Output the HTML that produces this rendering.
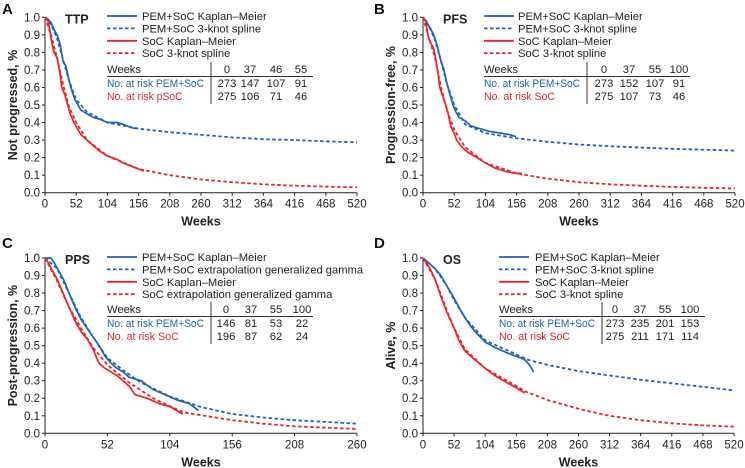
<!DOCTYPE html>
<html><head><meta charset="utf-8">
<style>
html,body{margin:0;padding:0;background:#fff;}
svg{display:block;font-family:"Liberation Sans",Arial,sans-serif;}
</style></head>
<body>
<svg id="chart" width="745" height="468" viewBox="0 0 745 468" xmlns="http://www.w3.org/2000/svg"></svg>
<script>
// ---------- Data ----------
const tickYLabels = ["0.0","0.1","0.2","0.3","0.4","0.5","0.6","0.7","0.8","0.9","1.0"];
const tickY = [0,0.1,0.2,0.3,0.4,0.5,0.6,0.7,0.8,0.9,1.0];
const ticksX520 = [0,52,104,156,208,260,312,364,416,468,520];
const ticksX260 = [0,52,104,156,208,260];

// Panel A - TTP
const ttpPemKmWeeks = [0,5,10,15,20,25,30,35,40,45,50,55,60,70,80,90,104,120,130,145,152];
const ttpPemKmVals  = [1,0.99,0.97,0.93,0.9,0.85,0.75,0.72,0.64,0.58,0.53,0.5,0.47,0.45,0.43,0.42,0.40,0.40,0.39,0.37,0.365];
const ttpPemSpWeeks = [0,10,20,30,40,52,70,104,156,208,260,312,364,416,468,520];
const ttpPemSpVals  = [1,0.96,0.88,0.76,0.64,0.53,0.46,0.40,0.365,0.345,0.33,0.315,0.305,0.3,0.293,0.287];
const ttpSocKmWeeks = [0,5,8,10,15,20,25,28,33,38,42,48,55,60,70,80,90,104,120,130,145,160,165];
const ttpSocKmVals  = [1,0.98,0.93,0.88,0.8,0.77,0.68,0.6,0.56,0.5,0.45,0.4,0.36,0.33,0.3,0.27,0.24,0.21,0.19,0.17,0.15,0.13,0.125];
const ttpSocSpWeeks = [0,10,20,30,40,52,70,104,156,208,260,312,364,416,468,520];
const ttpSocSpVals  = [1,0.9,0.77,0.62,0.49,0.4,0.3,0.21,0.135,0.1,0.075,0.06,0.048,0.04,0.035,0.03];

// Panel B - PFS
const pfsPemKmWeeks = [0,5,10,15,20,25,30,35,40,45,50,55,60,70,80,90,100,110,130,145,155];
const pfsPemKmVals  = [1,0.98,0.95,0.92,0.88,0.82,0.75,0.7,0.62,0.56,0.5,0.46,0.43,0.41,0.38,0.37,0.36,0.35,0.34,0.33,0.32];
const pfsPemSpWeeks = [0,10,20,30,40,52,70,104,156,208,260,312,364,416,468,520];
const pfsPemSpVals  = [1,0.95,0.87,0.75,0.62,0.5,0.39,0.34,0.31,0.29,0.275,0.265,0.257,0.25,0.245,0.24];
const pfsSocKmWeeks = [0,5,8,12,18,22,25,28,33,38,42,46,52,56,65,75,90,104,120,140,155,165];
const pfsSocKmVals  = [1,0.97,0.9,0.86,0.82,0.75,0.68,0.6,0.55,0.5,0.45,0.38,0.34,0.3,0.26,0.23,0.2,0.17,0.14,0.12,0.11,0.11];
const pfsSocSpWeeks = [0,10,20,30,40,52,70,104,156,208,260,312,364,416,468,520];
const pfsSocSpVals  = [1,0.88,0.77,0.6,0.47,0.36,0.26,0.17,0.11,0.08,0.06,0.048,0.04,0.033,0.028,0.024];

// Panel C - PPS
const ppsPemKmWeeks = [0,5,8,12,16,20,25,30,35,40,45,50,55,60,65,70,80,90,100,110,120,126,128];
const ppsPemKmVals  = [1,1,0.97,0.92,0.87,0.8,0.72,0.65,0.6,0.55,0.5,0.44,0.4,0.37,0.35,0.32,0.3,0.25,0.22,0.19,0.17,0.14,0.13];
const ppsPemSpWeeks = [0,10,20,30,40,52,65,80,104,130,156,182,208,234,260];
const ppsPemSpVals  = [1,0.94,0.8,0.66,0.55,0.43,0.36,0.29,0.21,0.15,0.11,0.09,0.075,0.065,0.055];
const ppsSocKmWeeks = [0,3,6,10,15,20,25,30,35,40,45,50,60,70,75,85,95,105,112,115];
const ppsSocKmVals  = [1,0.97,0.93,0.88,0.8,0.72,0.64,0.58,0.54,0.48,0.4,0.37,0.33,0.27,0.22,0.2,0.17,0.15,0.12,0.11];
const ppsSocSpWeeks = [0,10,20,30,40,52,70,90,115,156,182,208,234,260];
const ppsSocSpVals  = [1,0.87,0.72,0.6,0.49,0.39,0.29,0.2,0.12,0.075,0.055,0.04,0.032,0.025];

// Panel D - OS
const osPemKmWeeks = [0,10,20,30,40,52,60,70,80,90,104,120,140,156,170,178,185];
const osPemKmVals  = [1,0.97,0.94,0.9,0.84,0.77,0.72,0.66,0.61,0.57,0.52,0.49,0.46,0.44,0.42,0.39,0.35];
const osPemSpWeeks = [0,20,40,52,70,104,156,175,208,260,312,364,416,468,520];
const osPemSpVals  = [1,0.94,0.84,0.76,0.66,0.53,0.45,0.42,0.39,0.355,0.33,0.305,0.285,0.265,0.245];
const osSocKmWeeks = [0,10,20,30,40,52,60,70,80,90,104,120,140,156,170];
const osSocKmVals  = [1,0.95,0.88,0.78,0.69,0.6,0.53,0.47,0.44,0.41,0.37,0.33,0.29,0.26,0.23];
const osSocSpWeeks = [0,20,40,52,70,104,156,170,208,260,312,364,416,468,520];
const osSocSpVals  = [1,0.88,0.7,0.6,0.48,0.37,0.27,0.24,0.19,0.14,0.1,0.075,0.057,0.045,0.038];

// Risk tables
const ttpRiskWeeks = ["0","37","46","55"];
const ttpRiskPem = ["273","147","107","91"];
const ttpRiskSoc = ["275","106","71","46"];
const pfsRiskWeeks = ["0","37","55","100"];
const pfsRiskPem = ["273","152","107","91"];
const pfsRiskSoc = ["275","107","73","46"];
const ppsRiskWeeks = ["0","37","55","100"];
const ppsRiskPem = ["146","81","53","22"];
const ppsRiskSoc = ["196","87","62","24"];
const osRiskWeeks = ["0","37","55","100"];
const osRiskPem = ["273","235","201","153"];
const osRiskSoc = ["275","211","171","114"];

// ---------- Drawing ----------
const NS = "http://www.w3.org/2000/svg";
const svg = document.getElementById("chart");
const BLUE = "#1f63b3", RED = "#e8252b";

function mk(tag, attrs, parent, text){
  const e = document.createElementNS(NS, tag);
  for (const k in attrs) e.setAttribute(k, attrs[k]);
  if (text !== undefined) e.textContent = text;
  (parent || svg).appendChild(e);
  return e;
}

function panel(cfg){
  const g = mk("g", {});
  
  
  const x0 = cfg.x0, x1 = cfg.x1, y0 = cfg.y0, y1 = cfg.y1;
  const xs = v => x0 + (v / cfg.xmax) * (x1 - x0);
  const ys = v => y1 - v * (y1 - y0);

  const lab = mk("text", {x: cfg.labX, y: cfg.labY, "font-size": 15, "font-weight": "bold", fill: "#111"}, g, cfg.letter);
  
  

  const ax = mk("path", {d: `M${x0},${y0}V${y1}H${x1}`, stroke: "#222", "stroke-width": 1, fill: "none"}, g);
  
  
  tickY.forEach((t, i) => {
    const y = ys(t);
    mk("line", {x1: x0 - 3, x2: x0, y1: y, y2: y, stroke: "#222", "stroke-width": 1}, g);
    const tl = mk("text", {x: x0 - 5, y: y + 4, "font-size": 11.5, "text-anchor": "end", fill: "#222"}, g, tickYLabels[i]);
    
    
  });
  cfg.ticksX.forEach(t => {
    const x = xs(t);
    mk("line", {x1: x, x2: x, y1: y1, y2: y1 + 3, stroke: "#222", "stroke-width": 1}, g);
    const tl = mk("text", {x: x, y: y1 + 15, "font-size": 11.5, "text-anchor": "middle", fill: "#222"}, g, String(t));
    
    
  });
  const xt = mk("text", {x: (x0 + x1) / 2, y: y1 + 33, "font-size": 12.5, "font-weight": "bold", "text-anchor": "middle", fill: "#222"}, g, "Weeks");
  
  
  const yc = (y0 + y1) / 2;
  const yt = mk("text", {x: 0, y: 0, transform: `translate(${x0 - 28},${yc}) rotate(-90)`, "font-size": 12.5, "font-weight": "bold", "text-anchor": "middle", fill: "#222"}, g, cfg.ytitle);
  
  
  const tt = mk("text", {x: x0 + 20, y: y0 + 6, "font-size": 12.5, "font-weight": "bold", fill: "#222"}, g, cfg.title);
  
  

  function line(wk, vals, color, name, dashed){
    const d = wk.map((w, i) => (i ? "L" : "M") + xs(w).toFixed(1) + "," + ys(vals[i]).toFixed(1)).join("");
    const attrs = {d: d, stroke: color, "stroke-width": dashed ? 1.8 : 1.7, fill: "none", "stroke-linejoin": "round"};
    if (dashed) attrs["stroke-dasharray"] = "3.5,2.5";
    const p = mk("path", attrs, g);
    
    
  }
  line(cfg.pemSpW, cfg.pemSpV, BLUE, "pem-soc-extrapolation-line", true);
  line(cfg.socSpW, cfg.socSpV, RED, "soc-extrapolation-line", true);
  line(cfg.pemKmW, cfg.pemKmV, BLUE, "pem-soc-kaplan-meier-line", false);
  line(cfg.socKmW, cfg.socKmV, RED, "soc-kaplan-meier-line", false);

  const lg = mk("g", {}, g);
  
  
  cfg.legend.forEach((txt, i) => {
    const y = cfg.legY + i * 12.4;
    const color = i < 2 ? BLUE : RED;
    const attrs = {x1: cfg.legX, x2: cfg.legX + 30, y1: y, y2: y, stroke: color, "stroke-width": 1.8};
    if (i % 2 === 1) attrs["stroke-dasharray"] = "3.5,2.5";
    mk("line", attrs, lg);
    const t = mk("text", {x: cfg.legTX, y: y + 4, "font-size": 11.2, fill: "#222"}, lg, txt);
    
    
  });

  const tb = mk("g", {}, g);
  
  
  const ty = cfg.tabY;
  mk("text", {x: cfg.legX, y: ty + 4, "font-size": 11.2, fill: "#222"}, tb, "Weeks");
  mk("line", {x1: cfg.legX, x2: cfg.tabEnd, y1: ty + 7.5, y2: ty + 7.5, stroke: "#333", "stroke-width": 1}, tb);
  mk("line", {x1: cfg.divX, x2: cfg.divX, y1: ty - 7, y2: ty + 35, stroke: "#333", "stroke-width": 1}, tb);
  const rw = cfg.divX - cfg.legX - 7;
  mk("text", {x: cfg.legX, y: ty + 18, "font-size": 11.2, fill: BLUE, textLength: rw, lengthAdjust: "spacingAndGlyphs"}, tb, cfg.pemRowLabel);
  mk("text", {x: cfg.legX, y: ty + 31, "font-size": 11.2, fill: RED, textLength: rw * cfg.socFrac, lengthAdjust: "spacingAndGlyphs"}, tb, cfg.socRowLabel);
  cfg.cols.forEach((cx, i) => {
    mk("text", {x: cx, y: ty + 4, "font-size": 11.2, "text-anchor": "middle", fill: "#222"}, tb, cfg.riskW[i]);
    mk("text", {x: cx, y: ty + 18, "font-size": 11.2, "text-anchor": "middle", fill: "#222"}, tb, cfg.riskP[i]);
    mk("text", {x: cx, y: ty + 31, "font-size": 11.2, "text-anchor": "middle", fill: "#222"}, tb, cfg.riskS[i]);
  });
}

const splineLegend = ["PEM+SoC Kaplan–Meier","PEM+SoC 3-knot spline","SoC Kaplan–Meier","SoC 3-knot spline"];
const gammaLegend = ["PEM+SoC extrapolation generalized gamma"].length ? ["PEM+SoC Kaplan–Meier","PEM+SoC extrapolation generalized gamma","SoC Kaplan–Meier","SoC extrapolation generalized gamma"] : [];

panel({id:"ttp", letter:"A", labX:2, labY:14, title:"TTP", ytitle:"Not progressed, %",
  x0:45, x1:357, y0:17.3, y1:192.7, xmax:520, ticksX:ticksX520,
  pemKmW:ttpPemKmWeeks, pemKmV:ttpPemKmVals, pemSpW:ttpPemSpWeeks, pemSpV:ttpPemSpVals,
  socKmW:ttpSocKmWeeks, socKmV:ttpSocKmVals, socSpW:ttpSocSpWeeks, socSpV:ttpSocSpVals,
  legend:splineLegend, legX:107, legTX:142, legY:16,
  tabY:69, tabEnd:313, divX:211, cols:[227,250,276,301],
  riskW:ttpRiskWeeks, riskP:ttpRiskPem, riskS:ttpRiskSoc,
  pemRowLabel:"No. at risk PEM+SoC", socRowLabel:"No. at risk pSoC", socFrac:0.78});

panel({id:"pfs", letter:"B", labX:374, labY:14, title:"PFS", ytitle:"Progression-free, %",
  x0:423, x1:735, y0:17.3, y1:192.7, xmax:520, ticksX:ticksX520,
  pemKmW:pfsPemKmWeeks, pemKmV:pfsPemKmVals, pemSpW:pfsPemSpWeeks, pemSpV:pfsPemSpVals,
  socKmW:pfsSocKmWeeks, socKmV:pfsSocKmVals, socSpW:pfsSocSpWeeks, socSpV:pfsSocSpVals,
  legend:splineLegend, legX:484, legTX:518, legY:16,
  tabY:69, tabEnd:690, divX:587, cols:[604,629,655,679],
  riskW:pfsRiskWeeks, riskP:pfsRiskPem, riskS:pfsRiskSoc,
  pemRowLabel:"No. at risk PEM+SoC", socRowLabel:"No. at risk SoC", socFrac:0.74});

panel({id:"pps", letter:"C", labX:2, labY:248, title:"PPS", ytitle:"Post-progression, %",
  x0:45, x1:357, y0:258, y1:433.3, xmax:260, ticksX:ticksX260,
  pemKmW:ppsPemKmWeeks, pemKmV:ppsPemKmVals, pemSpW:ppsPemSpWeeks, pemSpV:ppsPemSpVals,
  socKmW:ppsSocKmWeeks, socKmV:ppsSocKmVals, socSpW:ppsSocSpWeeks, socSpV:ppsSocSpVals,
  legend:gammaLegend, legX:107, legTX:142, legY:257,
  tabY:309, tabEnd:313, divX:211, cols:[226,251,276,302],
  riskW:ppsRiskWeeks, riskP:ppsRiskPem, riskS:ppsRiskSoc,
  pemRowLabel:"No. at risk PEM+SoC", socRowLabel:"No. at risk SoC", socFrac:0.74});

panel({id:"os", letter:"D", labX:374, labY:248, title:"OS", ytitle:"Alive, %",
  x0:423, x1:734, y0:258, y1:433.3, xmax:520, ticksX:ticksX520,
  pemKmW:osPemKmWeeks, pemKmV:osPemKmVals, pemSpW:osPemSpWeeks, pemSpV:osPemSpVals,
  socKmW:osSocKmWeeks, socKmV:osSocKmVals, socSpW:osSocSpWeeks, socSpV:osSocSpVals,
  legend:splineLegend, legX:499, legTX:535, legY:257,
  tabY:309, tabEnd:705, divX:602, cols:[615,640,665,690],
  riskW:osRiskWeeks, riskP:osRiskPem, riskS:osRiskSoc,
  pemRowLabel:"No. at risk PEM+SoC", socRowLabel:"No. at risk SoC", socFrac:0.74});
</script>
</body></html>
